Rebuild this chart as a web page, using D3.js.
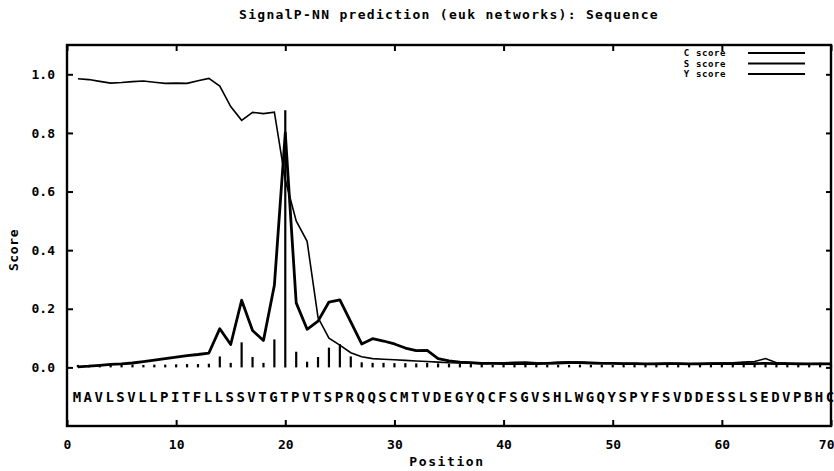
<!DOCTYPE html>
<html>
<head>
<meta charset="utf-8">
<script src="https://cdn.jsdelivr.net/npm/d3@7"></script>
<style>
body { margin: 0; background: #fff; }
</style>
</head>
<body>
<div id="chart"></div>
<script>
let width = 834;
let height = 471;

let sequence = "MAVLSVLLPITFLLSSVTGTPVTSPRQQSCMTVDEGYQCFSGVSHLWGQYSPYFSVDDESSLSEDVPBHC".split("");

// one value per sequence position (1..70)
let cScore = [
	0.005, 0.005, 0.006, 0.006, 0.006, 0.006, 0.005, 0.006, 0.006, 0.007,
	0.008, 0.008, 0.009, 0.034, 0.012, 0.082, 0.032, 0.012, 0.092, 0.874,
	0.050, 0.016, 0.032, 0.064, 0.076, 0.034, 0.014, 0.012, 0.012, 0.011,
	0.011, 0.010, 0.012, 0.010, 0.009, 0.008, 0.008, 0.007, 0.006, 0.006,
	0.006, 0.005, 0.005, 0.006, 0.005, 0.005, 0.006, 0.005, 0.005, 0.005,
	0.005, 0.006, 0.005, 0.005, 0.005, 0.006, 0.005, 0.005, 0.005, 0.005,
	0.005, 0.006, 0.006, 0.010, 0.005, 0.005, 0.005, 0.005, 0.005, 0.005
];
let sScore = [
	0.985, 0.982, 0.976, 0.970, 0.972, 0.975, 0.977, 0.973, 0.969, 0.970,
	0.969, 0.978, 0.986, 0.960, 0.890, 0.843, 0.870, 0.866, 0.871, 0.640,
	0.500, 0.430, 0.170, 0.100, 0.076, 0.050, 0.036, 0.030, 0.028, 0.026,
	0.024, 0.022, 0.020, 0.018, 0.016, 0.015, 0.014, 0.013, 0.014, 0.016,
	0.017, 0.018, 0.016, 0.015, 0.017, 0.019, 0.018, 0.016, 0.015, 0.014,
	0.013, 0.013, 0.012, 0.013, 0.014, 0.013, 0.012, 0.013, 0.014, 0.015,
	0.016, 0.018, 0.020, 0.030, 0.016, 0.014, 0.013, 0.012, 0.013, 0.012
];
let yScore = [
	0.002, 0.004, 0.007, 0.010, 0.012, 0.015, 0.020, 0.025, 0.030, 0.035,
	0.040, 0.044, 0.049, 0.132, 0.078, 0.229, 0.126, 0.092, 0.280, 0.800,
	0.220, 0.130, 0.158, 0.223, 0.230, 0.155, 0.080, 0.098, 0.090, 0.080,
	0.066, 0.057, 0.058, 0.030, 0.022, 0.018, 0.016, 0.014, 0.014, 0.013,
	0.013, 0.013, 0.013, 0.014, 0.015, 0.016, 0.016, 0.015, 0.014, 0.014,
	0.013, 0.013, 0.012, 0.012, 0.013, 0.013, 0.012, 0.012, 0.013, 0.013,
	0.013, 0.013, 0.013, 0.014, 0.013, 0.013, 0.012, 0.012, 0.012, 0.012
];

let xTicks = [0, 10, 20, 30, 40, 50, 60, 70];
let yTicks = [0.0, 0.2, 0.4, 0.6, 0.8, 1.0];
let legendNames = ["C score", "S score", "Y score"];

let font = "'DejaVu Sans Mono', monospace";

let svg = d3.select("#chart").append("svg")
	.attr("width", width)
	.attr("height", height);

let x = d3.scaleLinear().domain([0, 70]).range([67, 831]);
let y = d3.scaleLinear().domain([-0.2, 1.1]).range([426, 45]);

// title
svg.append("text")
	.attr("x", (x(0) + x(70)) / 2)
	.attr("y", 19)
	.attr("text-anchor", "middle")
	.attr("font-family", font)
	.attr("font-weight", "bold")
	.attr("font-size", 13)
	.attr("letter-spacing", 1.3)
	.text("SignalP-NN prediction (euk networks): Sequence");

// axes, ticks pointing inward on all four sides
function styleAxis(g){
	g.select(".domain").remove();
	g.selectAll("line").attr("stroke", "#000").attr("stroke-width", 2);
	g.selectAll("text")
		.attr("font-family", font)
		.attr("font-weight", "bold")
		.attr("font-size", 13)
		.attr("fill", "#000");
}

let bottomAxis = svg.append("g")
	.attr("transform", "translate(0," + y.range()[0] + ")")
	.call(d3.axisBottom(x).tickValues(xTicks).tickSizeInner(-6).tickSizeOuter(0).tickPadding(14))
	.call(styleAxis);
// last label would run off the page, keep it inside
bottomAxis.selectAll(".tick text")
	.filter(function(d){ return d === 70; })
	.attr("text-anchor", "end")
	.attr("x", 3);

svg.append("g")
	.attr("transform", "translate(0," + y.range()[1] + ")")
	.call(d3.axisTop(x).tickValues(xTicks).tickSizeInner(-6).tickSizeOuter(0).tickFormat(""))
	.call(styleAxis);

svg.append("g")
	.attr("transform", "translate(" + x(0) + ",0)")
	.call(d3.axisLeft(y).tickValues(yTicks).tickSizeInner(-6).tickSizeOuter(0).tickPadding(12).tickFormat(d3.format(".1f")))
	.call(styleAxis);

svg.append("g")
	.attr("transform", "translate(" + x(70) + ",0)")
	.call(d3.axisRight(y).tickValues(yTicks).tickSizeInner(-5).tickSizeOuter(0).tickFormat(""))
	.call(styleAxis);

// frame
svg.append("rect")
	.attr("x", x(0))
	.attr("y", y.range()[1])
	.attr("width", x(70) - x(0))
	.attr("height", y.range()[0] - y.range()[1])
	.attr("fill", "none")
	.attr("stroke", "#000")
	.attr("stroke-width", 2.4);

// axis titles
svg.append("text")
	.attr("x", (x(0) + x(70)) / 2 - 2)
	.attr("y", 466)
	.attr("text-anchor", "middle")
	.attr("font-family", font)
	.attr("font-weight", "bold")
	.attr("font-size", 13)
	.attr("letter-spacing", 1.6)
	.text("Position");

svg.append("text")
	.attr("transform", "translate(18,250) rotate(-90)")
	.attr("text-anchor", "middle")
	.attr("font-family", font)
	.attr("font-weight", "bold")
	.attr("font-size", 13)
	.attr("letter-spacing", 0.6)
	.text("Score");

let positions = sequence.map(function(d, i){ return i + 1; });

// C score as impulses
svg.append("g").selectAll("line")
	.data(positions)
	.enter().append("line")
	.attr("x1", function(d){ return x(d); })
	.attr("x2", function(d){ return x(d); })
	.attr("y1", y(0))
	.attr("y2", function(d, i){ return y(cScore[i]) - 1; })
	.attr("stroke", "#000")
	.attr("stroke-width", 2.2);

let line = d3.line()
	.x(function(d){ return x(d[0]); })
	.y(function(d){ return y(d[1]); });

// S score
svg.append("path")
	.datum(positions.map(function(p, i){ return [p, sScore[i]]; }))
	.attr("d", line)
	.attr("fill", "none")
	.attr("stroke", "#000")
	.attr("stroke-width", 1.6);

// Y score
svg.append("path")
	.datum(positions.map(function(p, i){ return [p, yScore[i]]; }))
	.attr("d", line)
	.attr("fill", "none")
	.attr("stroke", "#000")
	.attr("stroke-width", 2.8)
	.attr("stroke-linejoin", "round");

// sequence letters under the curves
svg.append("g").selectAll("text")
	.data(sequence)
	.enter().append("text")
	.attr("x", function(d, i){ return x(i + 1) - 1; })
	.attr("y", 402)
	.attr("text-anchor", "middle")
	.attr("font-family", font)
	.attr("font-weight", "bold")
	.attr("font-size", 14)
	.text(function(d){ return d; });

// legend
let legend = svg.append("g").selectAll("g")
	.data(legendNames)
	.enter().append("g")
	.attr("transform", function(d, i){ return "translate(0," + (53 + i * 10.5) + ")"; });

legend.append("text")
	.attr("x", 726)
	.attr("y", 3)
	.attr("text-anchor", "end")
	.attr("font-family", font)
	.attr("font-size", 9)
	.attr("font-weight", "bold")
	.attr("letter-spacing", 0.6)
	.text(function(d){ return d; });

legend.append("line")
	.attr("x1", 748)
	.attr("x2", 805)
	.attr("stroke", "#000")
	.attr("stroke-width", 1.8);
</script>
</body>
</html>
